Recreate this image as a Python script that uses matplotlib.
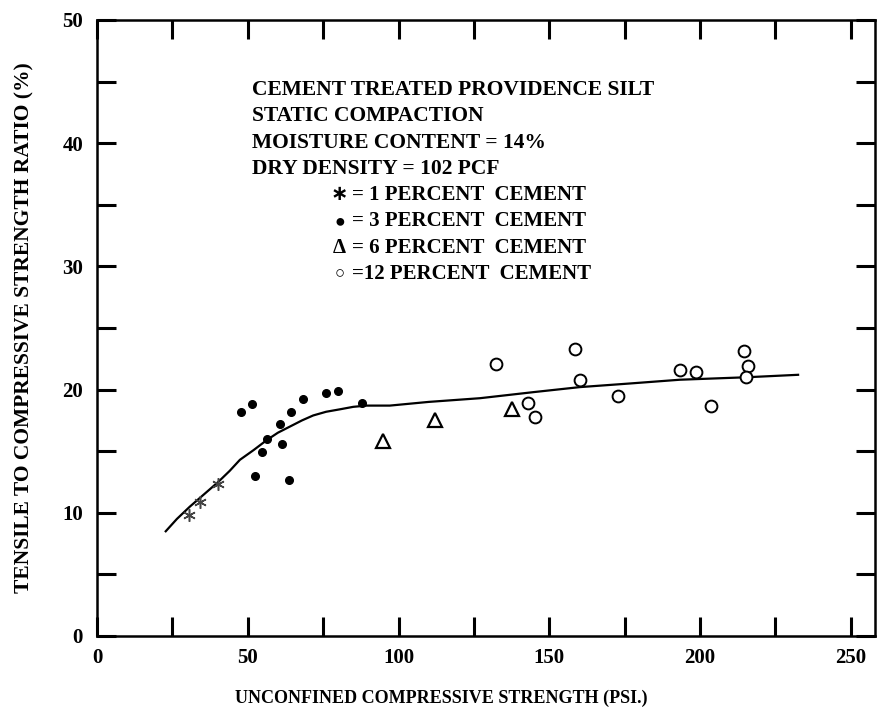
import matplotlib.pyplot as plt
from matplotlib.ticker import MultipleLocator, FuncFormatter

plt.rcParams['font.family'] = ['Liberation Serif', 'DejaVu Sans']
plt.rcParams['font.weight'] = 'bold'
plt.rcParams['axes.labelweight'] = 'bold'

# 1 percent cement
x_1pct = [30.5, 34.2, 40.1]
y_1pct = [9.8, 10.9, 12.3]

# 3 percent cement
x_3pct = [47.7, 51.3, 52.5, 54.7, 56.4, 60.7, 61.4, 63.7, 64.2, 68.4, 75.8, 79.8, 88.0]
y_3pct = [18.2, 18.8, 13.0, 14.9, 16.0, 17.2, 15.6, 12.7, 18.2, 19.2, 19.7, 19.9, 18.9]

# 6 percent cement
x_6pct = [94.8, 112.1, 137.7]
y_6pct = [15.8, 17.5, 18.4]

# 12 percent cement
x_12pct = [132.3, 158.4, 143.1, 145.2, 160.1, 172.8, 193.3, 198.6, 203.6, 214.6, 215.9, 215.1]
y_12pct = [22.1, 23.3, 18.9, 17.8, 20.8, 19.5, 21.6, 21.4, 18.7, 23.1, 21.9, 21.0]

# fitted trend curve
x_fit = [22.8, 26.5, 30.8, 35.5, 40.2, 44.0, 47.4, 52.0, 56.3, 60.0, 64.0, 68.0,
         71.7, 76.0, 80.6, 85.0, 89.4, 97.1, 110.0, 127.0, 145.0, 160.1, 177.0,
         193.3, 215.4, 232.5]
y_fit = [8.5, 9.5, 10.5, 11.5, 12.5, 13.4, 14.3, 15.1, 15.9, 16.5, 17.0, 17.5,
         17.9, 18.2, 18.4, 18.6, 18.7, 18.7, 19.0, 19.3, 19.8, 20.2, 20.5,
         20.8, 21.0, 21.2]

notes = ['CEMENT TREATED PROVIDENCE SILT',
         'STATIC COMPACTION',
         'MOISTURE CONTENT = 14%',
         'DRY DENSITY = 102 PCF']
key_marks = ['\u2217', '\u25cf', '\u0394', '\u25cb']
key_lines = ['= 1 PERCENT  CEMENT',
             '= 3 PERCENT  CEMENT',
             '= 6 PERCENT  CEMENT',
             '=12 PERCENT  CEMENT']
key_sizes = [15, 13, 15, 12]

fig = plt.figure(figsize=(8.84, 7.13), dpi=100)
ax = fig.add_axes([0.1097, 0.108, 0.8801, 0.864])

ax.plot(x_fit, y_fit, color='black', lw=1.6, zorder=2)
ax.plot(x_1pct, y_1pct, ls='none', marker=(6, 2, 0), ms=9, mew=1.1,
        color='#444444', zorder=3)
ax.plot(x_3pct, y_3pct, ls='none', marker='o', ms=5.5, color='black', zorder=3)
ax.plot(x_6pct, y_6pct, ls='none', marker='^', ms=10, mfc='white', mec='black',
        mew=1.6, zorder=3)
ax.plot(x_12pct, y_12pct, ls='none', marker='o', ms=8.5, mfc='white', mec='black',
        mew=1.4, zorder=3)

ax.set_xlim(0, 258)
ax.set_ylim(0, 50)
ax.xaxis.set_major_locator(MultipleLocator(25))
ax.yaxis.set_major_locator(MultipleLocator(5))
ax.xaxis.set_major_formatter(FuncFormatter(lambda v, p: f'{v:.0f}' if v % 50 == 0 else ''))
ax.yaxis.set_major_formatter(FuncFormatter(lambda v, p: f'{v:.0f}' if v % 10 == 0 else ''))
ax.tick_params(axis='both', direction='in', length=14, width=2.2, labelsize=15,
               top=True, right=True)
ax.tick_params(axis='x', pad=9)
ax.tick_params(axis='y', pad=10)
for s in ax.spines.values():
    s.set_linewidth(1.8)

ax.set_xlabel('UNCONFINED COMPRESSIVE STRENGTH (PSI.)', fontsize=13)
ax.xaxis.set_label_coords(0.442, -0.087)
ax.set_ylabel('TENSILE TO COMPRESSIVE STRENGTH RATIO (%)', fontsize=15.5, labelpad=20)

for i, t in enumerate(notes):
    ax.text(51.4, 44.3 - i * 2.13, t, fontsize=15.5, va='center', ha='left')
for i, t in enumerate(key_lines):
    yy = 35.8 - i * 2.15
    ax.text(80.5, yy, key_marks[i], fontsize=key_sizes[i], va='center', ha='center')
    ax.text(84.5, yy, t, fontsize=15, va='center', ha='left')

fig.savefig('out.png', dpi=100)
